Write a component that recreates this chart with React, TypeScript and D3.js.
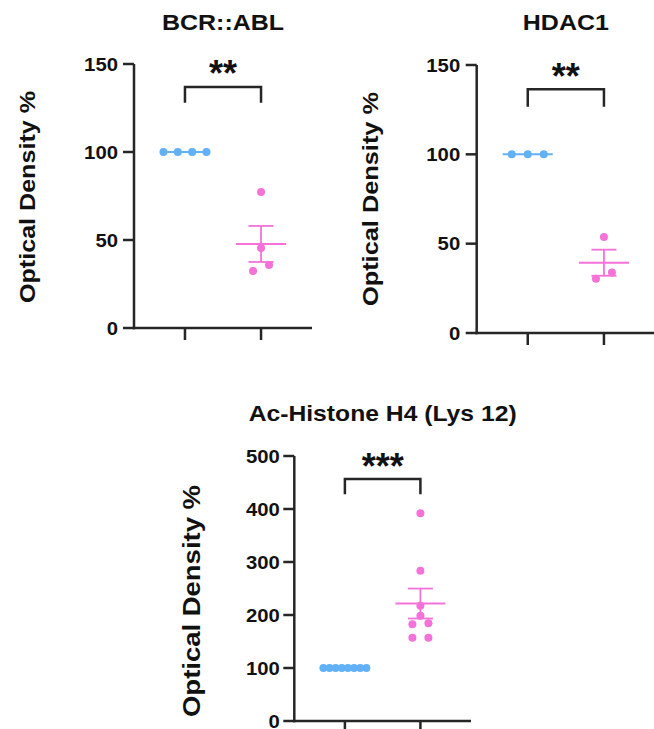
import React from "react";
import * as d3 from "d3";

// ---------- data ----------
const TITLES = ["BCR::ABL", "HDAC1", "Ac-Histone H4 (Lys 12)"];
const GROUPS = ["Control", "Treated"];
const Y_LABEL = "Optical Density %";
const SIGNIF = ["**", "**", "***"];

const bcrControl = [100, 100, 100, 100];
const bcrTreated = [77.3, 45.5, 35.8, 32.4];
const hdacControl = [100, 100, 100];
const hdacTreated = [53.8, 33.8, 30.4];
const h4Control = [100, 100, 100, 100, 100, 100, 100, 100];
const h4Treated = [392, 283.6, 217.6, 198.7, 184.3, 182.4, 157.2, 157.2];

const Y_MAX = [150, 150, 500];
const Y_TICKS_1 = [0, 50, 100, 150];
const Y_TICKS_2 = [0, 50, 100, 150];
const Y_TICKS_3 = [0, 100, 200, 300, 400, 500];
// bracket: [top, leg end] in data units
const BRACKET_1 = [137, 128];
const BRACKET_2 = [136.4, 126.7];
const BRACKET_3 = [456.6, 427.7];

// ---------- layout ----------
const BLUE = "#62b0f5";
const PINK = "#f572d8";
const AXIS = "#262626";
const FONT = "'Liberation Sans', Arial, Helvetica, sans-serif";

const panels = [
  {
    title: TITLES[0], series: [bcrControl, bcrTreated], yMax: Y_MAX[0], ticks: Y_TICKS_1, bracket: BRACKET_1, stars: SIGNIF[0],
    left: 134, right: 312, top: 64, bottom: 328, titleY: 30, titleLen: 122,
    ylabX: 35, ylabY: 197, ylabLen: 212, ylabSize: 22, tickGap: 16,
  },
  {
    title: TITLES[1], series: [hdacControl, hdacTreated], yMax: Y_MAX[1], ticks: Y_TICKS_2, bracket: BRACKET_2, stars: SIGNIF[1],
    left: 476.7, right: 655, top: 65, bottom: 333, titleY: 30, titleLen: 86,
    ylabX: 377.5, ylabY: 199, ylabLen: 214, ylabSize: 22, tickGap: 16.5,
  },
  {
    title: TITLES[2], series: [h4Control, h4Treated], yMax: Y_MAX[2], ticks: Y_TICKS_3, bracket: BRACKET_3, stars: SIGNIF[2],
    left: 294.3, right: 471, top: 456, bottom: 721, titleY: 421, titleLen: 268,
    ylabX: 200, ylabY: 601, ylabLen: 232, ylabSize: 23, tickGap: 14.5,
  },
];

function spread(values: number[], y: (v: number) => number, cx: number) {
  const pts = values.map((v) => ({ v, py: y(v) })).sort((a, b) => a.v - b.v);
  const clusters: { v: number; py: number }[][] = [];
  pts.forEach((p) => {
    const cur = clusters[clusters.length - 1];
    if (cur && Math.abs(cur[cur.length - 1].py - p.py) < 7) cur.push(p);
    else clusters.push([p]);
  });
  const out: { v: number; px: number; py: number }[] = [];
  clusters.forEach((c) => {
    const n = c.length;
    const s = n > 1 ? Math.min(16, 43 / (n - 1)) : 0;
    c.forEach((p, i) => out.push({ v: p.v, py: p.py, px: cx + (i - (n - 1) / 2) * s }));
  });
  return out;
}

function Panel({ p }: { p: (typeof panels)[number] }) {
  const y = d3.scaleLinear().domain([0, p.yMax]).range([p.bottom, p.top]);
  const x = d3.scalePoint<string>().domain(GROUPS).range([p.left, p.right]).padding(0.67);
  const colors = [BLUE, PINK];
  const cx0 = x(GROUPS[0])!;
  const cx1 = x(GROUPS[1])!;
  const midX = (p.left + p.right) / 2;
  return (
    <g>
      <text x={midX} y={p.titleY} textAnchor="middle" fontFamily={FONT} fontWeight="bold" fontSize={22}
        textLength={p.titleLen} lengthAdjust="spacingAndGlyphs" fill="#111">{p.title}</text>
      <text transform={`translate(${p.ylabX},${p.ylabY}) rotate(-90)`} textAnchor="middle" fontFamily={FONT}
        fontWeight="bold" fontSize={p.ylabSize} textLength={p.ylabLen} lengthAdjust="spacingAndGlyphs" fill="#111">{Y_LABEL}</text>
      {/* axes */}
      <line x1={p.left} x2={p.left} y1={y(0) + 1.2} y2={y(p.yMax)} stroke={AXIS} strokeWidth={2.5} />
      <line x1={p.left - 1.2} x2={p.right} y1={y(0)} y2={y(0)} stroke={AXIS} strokeWidth={2.5} />
      {p.ticks.map((t) => (
        <g key={t}>
          <line x1={p.left - 11} x2={p.left} y1={y(t)} y2={y(t)} stroke={AXIS} strokeWidth={2.5} />
          <text x={p.left - p.tickGap} y={y(t) + 6.5} textAnchor="end" fontFamily={FONT} fontWeight="bold"
            fontSize={18} textLength={String(t).length * 11.3} lengthAdjust="spacingAndGlyphs" fill="#111">{t}</text>
        </g>
      ))}
      {GROUPS.map((g) => (
        <line key={g} x1={x(g)} x2={x(g)} y1={y(0)} y2={y(0) + 12} stroke={AXIS} strokeWidth={2.5} />
      ))}
      {/* bracket */}
      <path d={`M${cx0},${y(p.bracket[1])}V${y(p.bracket[0])}H${cx1}V${y(p.bracket[1])}`} fill="none"
        stroke={AXIS} strokeWidth={2.5} />
      <text x={(cx0 + cx1) / 2} y={y(p.bracket[0]) - 0.5} textAnchor="middle" fontFamily={FONT} fontWeight="bold"
        fontSize={36} fill="#111">{p.stars}</text>
      {/* series */}
      {p.series.map((vals, gi) => {
        const cx = x(GROUPS[gi])!;
        const m = d3.mean(vals)!;
        const sem = (d3.deviation(vals) ?? 0) / Math.sqrt(vals.length);
        const pts = spread(vals, y, cx);
        const c = colors[gi];
        return (
          <g key={gi}>
            {sem > 0 && (
              <g stroke={c} strokeWidth={1.8}>
                <line x1={cx} x2={cx} y1={y(m + sem)} y2={y(m - sem)} />
                <line x1={cx - 12.5} x2={cx + 12.5} y1={y(m + sem)} y2={y(m + sem)} />
                <line x1={cx - 12.5} x2={cx + 12.5} y1={y(m - sem)} y2={y(m - sem)} />
              </g>
            )}
            <line x1={cx - 25} x2={cx + 25} y1={y(m)} y2={y(m)} stroke={c} strokeWidth={2} />
            {pts.map((pt, i) => (
              <circle key={i} cx={pt.px} cy={pt.py} r={4} fill={c} />
            ))}
          </g>
        );
      })}
    </g>
  );
}

export default function App() {
  return (
    <svg width={654} height={729} style={{ position: "absolute", left: 0, top: 0, background: "#fff" }}>
      <rect width={654} height={729} fill="#fff" />
      {panels.map((p, i) => (
        <Panel key={i} p={p} />
      ))}
    </svg>
  );
}
